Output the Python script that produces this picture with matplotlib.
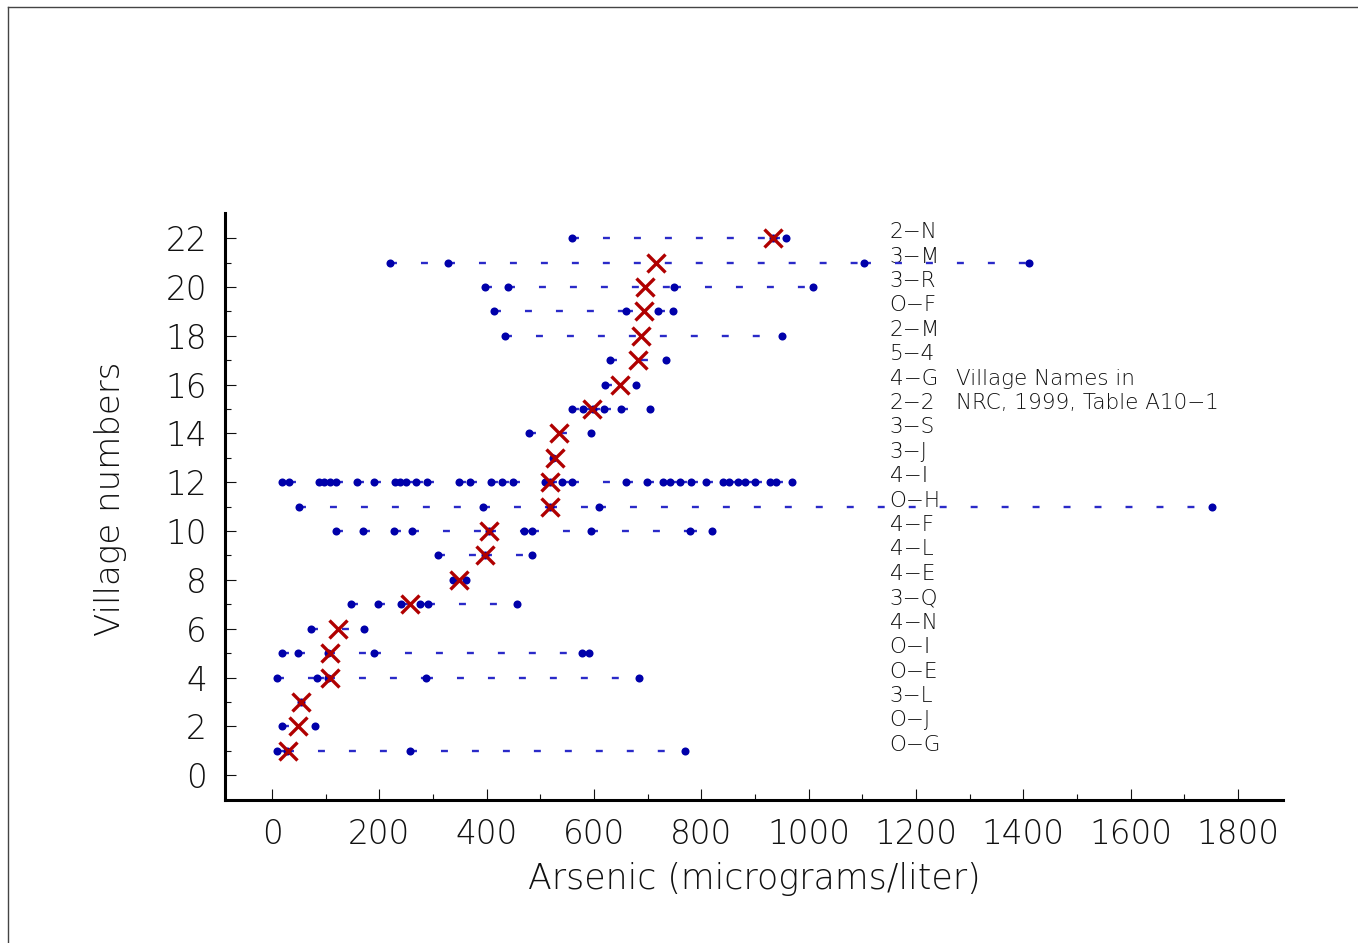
import numpy as np
import matplotlib
matplotlib.use("Agg")
import matplotlib.pyplot as plt
from matplotlib.lines import Line2D

plt.rcParams['font.family'] = ['DejaVu Sans']
plt.rcParams['lines.scale_dashes'] = False

# arsenic readings per village (row number -> values in micrograms/liter)
rows = {
    1: [8.7, 28, 258, 769],
    2: [18.6, 79.5],
    3: [54],
    4: [8.7, 84, 105, 287, 684],
    5: [18.6, 49, 105, 189.5, 578, 590],
    6: [72, 171],
    7: [147, 197.5, 241, 276, 291, 456.5],
    8: [338, 361],
    9: [309, 396, 484.6],
    10: [118.7, 169.4, 228, 260, 404, 469, 484.7, 594, 778, 819],
    11: [49.6, 393, 518, 610, 1751.6],
    12: [18.9, 30.9, 88.1, 97.4, 108, 118.7, 158.6, 189.3, 229.2, 238.5,
         249.2, 269.1, 289, 349, 369, 408.8, 428.8, 448.8, 508, 518, 540,
         558.6, 659, 699, 728.4, 741.6, 760.3, 780.2, 809.5, 840.2, 850.8,
         868.2, 881.4, 900, 928, 940, 969.2],
    13: [524],
    14: [479.5, 594.4],
    15: [559, 580, 598, 618.5, 650, 703.6],
    16: [620, 679],
    17: [630, 733.6],
    18: [434, 950],
    19: [413.7, 659, 719, 747.6],
    20: [396, 438.8, 749.6, 1009],
    21: [220.6, 328.3, 1103, 1410.6],
    22: [559, 934, 958.5],
}

# red crosses (village averages)
row_means = [29.8, 48.4, 54.7, 108, 107.5, 122.4, 257.8, 347.9, 396, 404.2,
             518, 518, 527, 535.4, 596.5, 647.7, 681.8, 688, 693, 695,
             715.6, 934]

village_names = ["O\u2212G", "O\u2212J", "3\u2212L", "O\u2212E", "O\u2212I", "4\u2212N",
                 "3\u2212Q", "4\u2212E", "4\u2212L", "4\u2212F", "O\u2212H", "4\u2212I",
                 "3\u2212J", "3\u2212S", "2\u22122", "4\u2212G", "5\u22124", "2\u2212M",
                 "O\u2212F", "3\u2212R", "3\u2212M", "2\u2212N"]

fig = plt.figure(figsize=(13.58, 9.43), dpi=100)
ax = fig.add_axes([0.1657, 0.1516, 0.7791, 0.6225])

dot_col = '#0000AA'
line_col = '#2a2ac8'
txt_col = '#111111'
for r, vals in rows.items():
    vals = sorted(vals)
    if len(vals) > 1:
        ax.hlines([r] * (len(vals) - 1), vals[:-1], vals[1:], colors=line_col,
                  linewidth=1.7, linestyles=(0, (5, 17.3)), zorder=2)
    ax.plot(vals, [r] * len(vals), 'o', color=dot_col, markersize=5.8,
            markeredgewidth=0, zorder=3)

ridx = np.arange(1, len(row_means) + 1)
ax.plot(row_means, ridx, 'x', color='#B00000', markersize=13,
        markeredgewidth=2.4, zorder=4)

for r, name in zip(ridx, village_names):
    ax.text(1151, r, name, fontsize=15.5, fontweight='light', va='baseline',
            ha='left', color=txt_col, zorder=1)
ax.text(1275, 16, "Village Names in", fontsize=15.5, fontweight='light',
        va='baseline', ha='left', color=txt_col)
ax.text(1275, 15, "NRC, 1999, Table A10\u22121", fontsize=15.5, fontweight='light',
        va='baseline', ha='left', color=txt_col)

ax.set_xlim(-87.6, 1884)
ax.set_ylim(-1.02, 23.03)
ax.set_xticks(np.arange(0, 1801, 200))
ax.set_xticks(np.arange(100, 1801, 200), minor=True)
ax.set_yticks(np.arange(0, 23, 2))
ax.set_yticks(np.arange(1, 23, 2), minor=True)

for s in ['top', 'right']:
    ax.spines[s].set_visible(False)
for s in ['left', 'bottom']:
    ax.spines[s].set_linewidth(2.2)

ax.tick_params(which='major', direction='in', length=8, width=0.8,
               labelsize=23.5, pad=13, colors=txt_col)
ax.tick_params(which='minor', direction='in', length=4.3, width=0.8,
               colors=txt_col)
for lab in ax.get_xticklabels() + ax.get_yticklabels():
    lab.set_fontweight('light')

ax.set_xlabel("Arsenic (micrograms/liter)", fontsize=25, fontweight='light',
              labelpad=8, color=txt_col)
ax.set_ylabel("Village numbers", fontsize=24.5, fontweight='light',
              color=txt_col)
ax.yaxis.set_label_coords(-0.093, 0.513)

# page frame lines
fig.add_artist(Line2D([8 / 1358, 1], [1 - 7 / 943, 1 - 7 / 943],
                      transform=fig.transFigure, color='#444444', linewidth=1))
fig.add_artist(Line2D([8 / 1358, 8 / 1358], [0, 1 - 7 / 943],
                      transform=fig.transFigure, color='#444444', linewidth=1))

fig.savefig("out.png", dpi=100)
